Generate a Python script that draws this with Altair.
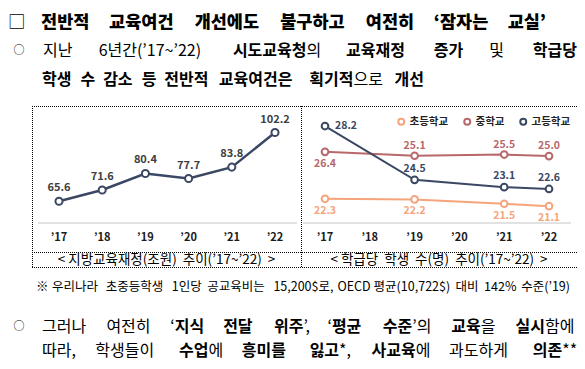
import re
import altair as alt
import pandas as pd

FONT = "Noto Sans CJK KR"
NAVY = "#3b4863"
MID = "#b8686b"
ELEM = "#f5a47c"
NB = "\u00a0"

# ---------------- data ----------------
fin_years = ["’17", "’18", "’19", "’20", "’21", "’22"]
fin_values = [65.6, 71.6, 80.4, 77.7, 83.8, 102.2]

stu_axis_years = ["’17", "’18", "’19", "’20", "’21", "’22"]
stu_years = ["’17", "’19", "’21", "’22"]
schools = ["초등학교", "중학교", "고등학교"]
elem_values = [22.3, 22.2, 21.5, 21.1]
mid_values = [26.4, 25.1, 25.5, 25.0]
high_values = [28.2, 24.5, 23.1, 22.6]

title_text = "□ {전반적} {교육여건} {개선에도} {불구하고} {여전히} {‘잠자는} {교실’}"
b1_line1 = "지난 6년간(’17~’22) {시도교육청}의 {교육재정} {증가} 및 {학급당}"
b1_line2 = "{학생} {수} {감소} {등} {전반적} {교육여건은} {획기적}으로 {개선}"
cap_left = "< 지방교육재정(조원)  추이(’17~’22)  >"
cap_right = "< 학급당  학생  수(명)  추이(’17~’22)  >"
note_text = "※ 우리나라 초중등학생 1인당 공교육비는 15,200$로, OECD 평균(10,722$) 대비 142% 수준(’19)"
b2_line1 = "그러나 여전히 ‘{지식} {전달} {위주}’, ‘{평균} {수준}’의 {교육}을 {실시}함에"
b2_line2 = "따라, 학생들이 {수업}에 {흥미를} {잃고}*, {사교육}에 과도하게 {의존}**"
bullet = "○"

# ---------------- text layout helpers ----------------
CW = {' ': 0.224, '(': 0.34, ')': 0.34, ',': 0.25, '.': 0.25, '’': 0.25, '‘': 0.25,
      "'": 0.2, '~': 0.56, '$': 0.56, '%': 0.88, '*': 0.46, '<': 0.56, '>': 0.56,
      'O': 0.74, 'E': 0.55, 'C': 0.63, 'D': 0.69}
WEIGHTS = {'normal': 'normal', 'bold': 'bold', 'black': 900}


def cw(c):
    if c in CW:
        return CW[c]
    if c.isdigit():
        return 0.555
    if ord(c) >= 0x2E80 or c in '□○※':
        return 1.0
    if c.isupper():
        return 0.65
    return 0.5


def tw(t, size, bold):
    return sum(cw(c) * (1.04 if (bold and ord(c) < 0x2E80) else 1.0) for c in t) * size


def segments(word):
    out = []
    for m in re.finditer(r"\{([^}]*)\}|([^{}]+)", word):
        if m.group(1) is not None:
            out.append((m.group(1), True))
        else:
            out.append((m.group(2), False))
    return out


rows = []


def add_line(text, left, right, y, size, weight_bold='bold'):
    words = text.split(' ')
    segs = [segments(w) for w in words]
    widths = [sum(tw(t, size, b) for t, b in s) for s in segs]
    n = len(words)
    gap = (right - left - sum(widths)) / (n - 1) if n > 1 else 0
    x = left
    for i, (s, w) in enumerate(zip(segs, widths)):
        last = (i == n - 1)
        if len(s) == 1:
            t, b = s[0]
            if last and n > 1:
                rows.append(dict(t=t, x=right, y=y, size=size, w=weight_bold if b else 'normal', align='right'))
            else:
                rows.append(dict(t=t, x=x, y=y, size=size, w=weight_bold if b else 'normal', align='left'))
        else:
            (t1, b1), (t2, b2) = s[0], s[1]
            if last and n > 1:
                boundary = right - tw(t2, size, b2)
            else:
                boundary = x + tw(t1, size, b1)
            rows.append(dict(t=t1, x=boundary, y=y, size=size, w=weight_bold if b1 else 'normal', align='right'))
            rows.append(dict(t=t2, x=boundary, y=y, size=size, w=weight_bold if b2 else 'normal', align='left'))
        x += w + gap


add_line(title_text, 0, 538, 15, 17.5, weight_bold='black')
add_line(b1_line1, 35, 569, 43, 16)
add_line(b1_line2, 34, 416, 72, 16)
add_line(note_text, 28, 562, 279, 12.5)
add_line(b2_line1, 34, 569, 319, 16)
add_line(b2_line2, 34, 569, 343, 16)

text_df = pd.DataFrame(rows)
text_layers = []
for (size, w, align), sub in text_df.groupby(['size', 'w', 'align']):
    text_layers.append(
        alt.Chart(sub).mark_text(align=align, baseline='middle', font=FONT, fontSize=float(size),
                                 fontWeight=WEIGHTS[w], color='#000')
        .encode(x=alt.X('x:Q', scale=None, axis=None), y=alt.Y('y:Q', scale=None, axis=None), text='t:N')
    )

bullet_df = pd.DataFrame({'t': [bullet, bullet], 'x': [11, 11], 'y': [43, 319]})
bullet_layer = alt.Chart(bullet_df).mark_text(align='center', baseline='middle', font=FONT, fontSize=11,
                                              color='#000').encode(
    x=alt.X('x:Q', scale=None, axis=None), y=alt.Y('y:Q', scale=None, axis=None), text='t:N')

# keep the wide spacing of the captions (svg collapses plain double spaces)
cap_df = pd.DataFrame({'t': [c.replace('  ', ' ' + NB) for c in (cap_left, cap_right)],
                       'x': [158.5, 431], 'y': [251.5, 251.5]})
cap_layer = alt.Chart(cap_df).mark_text(align='center', baseline='middle', font=FONT, fontSize=13.5,
                                        color='#000').encode(
    x=alt.X('x:Q', scale=None, axis=None), y=alt.Y('y:Q', scale=None, axis=None), text='t:N')

# ---------------- frame rules ----------------
dummy = pd.DataFrame({'k': [0]})


def hrule(x1, x2, y, **kw):
    return alt.Chart(dummy).mark_rule(**kw).encode(x=alt.value(x1), x2=alt.value(x2), y=alt.value(y))


def vrule(x, y1, y2, **kw):
    return alt.Chart(dummy).mark_rule(**kw).encode(x=alt.value(x), y=alt.value(y1), y2=alt.value(y2))


dot = dict(color='#000', strokeWidth=1, strokeDash=[1, 1])
frame = [
    hrule(24, 570, 98.5, **dot), hrule(24, 570, 244.5, **dot), hrule(24, 570, 259.5, **dot),
    vrule(24.5, 98, 260, **dot), vrule(293.5, 98, 260, **dot), vrule(569.5, 98, 260, **dot),
    hrule(30, 289, 215, color='#d9d9d9', strokeWidth=1.5),
    hrule(295, 563, 215, color='#d9d9d9', strokeWidth=1.5),
]

# ---------------- left chart ----------------
fin_df = pd.DataFrame({'year': fin_years, 'value': fin_values})
lx = alt.X('year:N', scale=alt.Scale(type='point', domain=fin_years, range=[51, 267], padding=0), axis=None)
ly = alt.Y('value:Q', scale=alt.Scale(domain=[55, 115], range=[213.2, 100.5], zero=False, nice=False), axis=None)
lbase = alt.Chart(fin_df).encode(x=lx, y=ly)
left = alt.layer(
    lbase.mark_line(color=NAVY, strokeWidth=2.5),
    lbase.mark_point(shape='circle', filled=False, fill='white', stroke=NAVY, strokeWidth=2, size=50, opacity=1),
    lbase.mark_text(dy=-13, font=FONT, fontSize=11, fontWeight='bold', color='#404040')
    .encode(text=alt.Text('value:Q', format='.1f')),
    alt.Chart(fin_df).mark_text(font=FONT, fontSize=11, fontWeight='bold', color='#1a1a1a', baseline='middle')
    .encode(x=lx, y=alt.value(230), text='year:N'),
)

# ---------------- right chart ----------------
stu_df = pd.DataFrame({
    'year': stu_years * 3,
    'school': [schools[0]] * 4 + [schools[1]] * 4 + [schools[2]] * 4,
    'value': elem_values + mid_values + high_values,
})
rx = alt.X('year:N', scale=alt.Scale(type='point', domain=stu_axis_years, range=[317, 541], padding=0), axis=None)
stroke_scale = alt.Scale(domain=schools, range=[ELEM, MID, NAVY])
legend = alt.Legend(title=None, orient='none', legendX=388, legendY=108, direction='horizontal',
                    symbolType='circle', symbolSize=36, symbolStrokeWidth=2, symbolFillColor='white',
                    labelFont=FONT, labelFontSize=10.5, labelFontWeight='bold', labelColor='#222',
                    labelOffset=3, columnPadding=11, padding=0)
first = stu_years[0]


def series(name, color, yscale, first_opts, rest_opts):
    y = alt.Y('value:Q', scale=yscale, axis=None)
    base = alt.Chart(stu_df).transform_filter(alt.datum.school == name).encode(x=rx, y=y)
    txt = dict(font=FONT, fontSize=10.5, fontWeight='bold', color=color, baseline='middle')
    return alt.layer(
        base.mark_line(color=color, strokeWidth=2),
        base.mark_point(shape='circle', filled=False, fill='white', strokeWidth=2, size=45, opacity=1)
        .encode(stroke=alt.Stroke('school:N', scale=stroke_scale, legend=legend)),
        base.transform_filter(alt.datum.year == first).mark_text(**txt, **first_opts)
        .encode(text=alt.Text('value:Q', format='.1f')),
        base.transform_filter(alt.datum.year != first).mark_text(**txt, **rest_opts)
        .encode(text=alt.Text('value:Q', format='.1f')),
    )


elem_layer = series(schools[0], ELEM,
                    alt.Scale(domain=[20, 30], range=[205, 143.2], zero=False, nice=False),
                    dict(dy=12), dict(dy=12))
mid_layer = series(schools[1], MID,
                   alt.Scale(domain=[20, 30], range=[163.2, 132.9], zero=False, nice=False),
                   dict(dy=12), dict(dy=-10))
high_layer = series(schools[2], NAVY,
                    alt.Scale(type='pow', exponent=10.5, domain=[20, 30], range=[185.9, 54.2],
                              zero=False, nice=False),
                    dict(dx=10, align='left'), dict(dy=-11))

rticks_df = pd.DataFrame({'year': stu_axis_years})
right_ticks = alt.Chart(rticks_df).mark_text(font=FONT, fontSize=11, fontWeight='bold', color='#1a1a1a',
                                             baseline='middle').encode(x=rx, y=alt.value(230), text='year:N')

right = alt.layer(elem_layer, mid_layer, high_layer, right_ticks).resolve_scale(y='independent')

chart = alt.layer(*frame, left, right, cap_layer, bullet_layer, *text_layers).resolve_scale(
    x='independent', y='independent'
).properties(
    width=569, height=353, padding=0, autosize=alt.AutoSizeParams(type='none'), background='white'
).configure_view(stroke='transparent')

chart.save("out.html", embed_options={"renderer": "svg", "actions": False})
